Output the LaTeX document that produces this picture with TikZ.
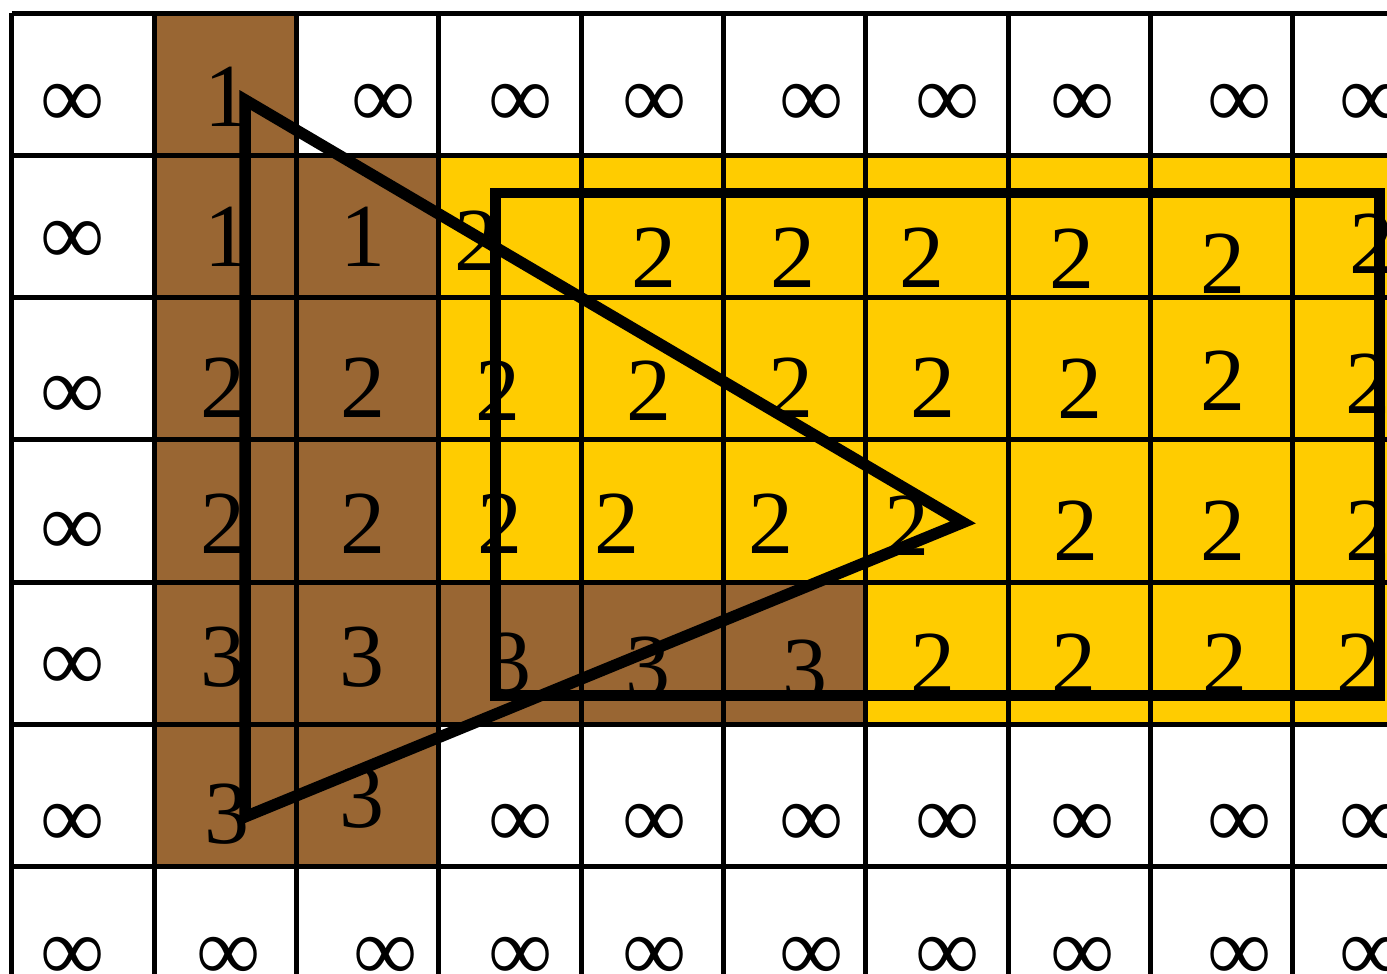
\documentclass[tikz,border=0pt]{standalone}
\usepackage{fontspec}
\setmainfont{Liberation Serif}
\definecolor{zbrown}{RGB}{153,102,51}
\definecolor{zyellow}{RGB}{255,204,0}

\begin{document}
\begin{tikzpicture}[
	cellline/.style={line width=1pt, black},
	zval/.style={font=\fontsize{18}{18}\selectfont, inner sep=0pt},
	outline/.style={line width=2.3pt, black}]
	\useasboundingbox (-0.0843,0.2467) rectangle (9.6627,7.0914);
	% depth buffer after the two polygons
	\fill[zbrown] (1,1) rectangle (2,7);
	\fill[zbrown] (2,1) rectangle (3,6);
	\fill[zbrown] (3,2) rectangle (6,3);
	\fill[zyellow] (3,3) rectangle (10,6);
	\fill[zyellow] (6,2) rectangle (10,3);
	\draw[cellline] (0,0) grid (10,7);
	% values and polygons, in pixels of the sheet
	\begin{scope}[shift={(-0.0843,7.0914)}, x=0.0070274cm, y=-0.0070274cm]
		\foreach \x/\y [count=\i] in {73/100, 383/100, 520/100, 654/100, 811/100, 947/100, 1082/100, 1238/100, 1370/100,
			73/237, 73/392, 73/528, 73/663,
			73/820, 520/820, 654/820, 811/820, 947/820, 1082/820, 1238/820, 1370/820,
			73/953, 228/953, 385/953, 520/953, 654/953, 811/953, 947/953, 1082/953, 1238/953, 1370/953}
			\node[zval, yshift=-1.1pt] (inf-\i) at (\x,\y) {∞};
		\foreach \v/\x/\y [count=\i] in {1/227/97,
			1/227/237, 1/363/237, 2/477/240, 2/653/257, 2/792/257, 2/921/257, 2/1071/258, 2/1222/263, 2/1371/243,
			2/223/387, 2/363/387, 2/498/390, 2/648/390, 2/790/387, 2/932/387, 2/1079/388, 2/1222/380, 2/1367/383,
			2/223/523, 2/363/523, 2/500/523, 2/616/523, 2/770/523, 2/906/525, 2/1075/530, 2/1222/530, 2/1367/530,
			3/223/657, 3/362/657, 3/509/663, 3/647/667, 3/804/670, 2/932/663, 2/1073/663, 2/1224/663, 2/1358/663,
			3/227/813, 3/362/797}
			\node[zval] (d-\i) at (\x,\y) {\v};
		\coordinate (tri-top) at (245,100);
		\coordinate (tri-bot) at (245,816);
		\coordinate (tri-tip) at (962,522);
		\coordinate (rect-a) at (495,193);
		\coordinate (rect-b) at (1378,695);
		\draw[outline] (tri-top) -- (tri-bot) -- (tri-tip) -- cycle;
		\draw[outline, line width=2.1pt] (rect-a) rectangle (rect-b);
	\end{scope}
\end{tikzpicture}
\end{document}
